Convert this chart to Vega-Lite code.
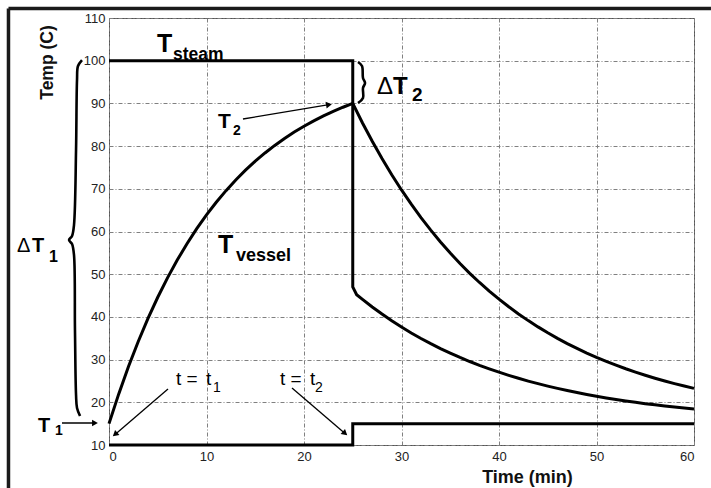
{
  "$schema": "https://vega.github.io/schema/vega-lite/v6.json",
  "width": 585,
  "height": 427,
  "autosize": {"type": "none"},
  "padding": {"left": 109, "top": 18, "right": 17, "bottom": 43},
  "background": "white",
  "config": {
    "font": "Liberation Sans",
    "view": {"stroke": "#555555", "strokeWidth": 1},
    "axis": {
      "domain": false,
      "ticks": false,
      "grid": true,
      "gridColor": "#808080",
      "gridDash": [4, 2, 1, 2],
      "gridWidth": 1,
      "labelFont": "Liberation Sans",
      "labelFontSize": 13,
      "labelColor": "#222222",
      "titleFont": "Liberation Sans",
      "titleFontWeight": "bold",
      "titleColor": "#111111"
    }
  },
  "datasets": {
    "curves": [
      {"s":"cool","i":0,"t":0,"T":10},{"s":"cool","i":1,"t":25,"T":10},{"s":"cool","i":2,"t":25,"T":15},{"s":"cool","i":3,"t":60,"T":15},
      {"s":"steam","i":0,"t":0,"T":100},{"s":"steam","i":1,"t":25,"T":100},{"s":"steam","i":2,"t":25,"T":47},{"s":"steam","i":3,"t":25.4,"T":45.2},
      {"s":"steam","i":4,"t":26,"T":44.11},{"s":"steam","i":5,"t":27,"T":42.33},{"s":"steam","i":6,"t":28,"T":40.66},{"s":"steam","i":7,"t":29,"T":39.09},
      {"s":"steam","i":8,"t":30,"T":37.62},{"s":"steam","i":9,"t":31,"T":36.24},{"s":"steam","i":10,"t":32,"T":34.95},{"s":"steam","i":11,"t":33,"T":33.73},
      {"s":"steam","i":12,"t":34,"T":32.58},{"s":"steam","i":13,"t":35,"T":31.51},{"s":"steam","i":14,"t":36,"T":30.5},{"s":"steam","i":15,"t":37,"T":29.55},
      {"s":"steam","i":16,"t":38,"T":28.66},{"s":"steam","i":17,"t":39,"T":27.83},{"s":"steam","i":18,"t":40,"T":27.05},{"s":"steam","i":19,"t":41,"T":26.31},
      {"s":"steam","i":20,"t":42,"T":25.62},{"s":"steam","i":21,"t":43,"T":24.97},{"s":"steam","i":22,"t":44,"T":24.37},{"s":"steam","i":23,"t":45,"T":23.79},
      {"s":"steam","i":24,"t":46,"T":23.26},{"s":"steam","i":25,"t":47,"T":22.75},{"s":"steam","i":26,"t":48,"T":22.28},{"s":"steam","i":27,"t":49,"T":21.83},
      {"s":"steam","i":28,"t":50,"T":21.42},{"s":"steam","i":29,"t":51,"T":21.02},{"s":"steam","i":30,"t":52,"T":20.66},{"s":"steam","i":31,"t":53,"T":20.31},
      {"s":"steam","i":32,"t":54,"T":19.99},{"s":"steam","i":33,"t":55,"T":19.68},{"s":"steam","i":34,"t":56,"T":19.4},{"s":"steam","i":35,"t":57,"T":19.13},
      {"s":"steam","i":36,"t":58,"T":18.88},{"s":"steam","i":37,"t":59,"T":18.64},{"s":"steam","i":38,"t":60,"T":18.42},
      {"s":"vessel","i":0,"t":0,"T":15},{"s":"vessel","i":1,"t":1,"T":21.97},{"s":"vessel","i":2,"t":2,"T":28.37},{"s":"vessel","i":3,"t":3,"T":34.25},
      {"s":"vessel","i":4,"t":4,"T":39.64},{"s":"vessel","i":5,"t":5,"T":44.6},{"s":"vessel","i":6,"t":6,"T":49.14},{"s":"vessel","i":7,"t":7,"T":53.31},
      {"s":"vessel","i":8,"t":8,"T":57.14},{"s":"vessel","i":9,"t":9,"T":60.66},{"s":"vessel","i":10,"t":10,"T":63.88},{"s":"vessel","i":11,"t":11,"T":66.85},
      {"s":"vessel","i":12,"t":12,"T":69.57},{"s":"vessel","i":13,"t":13,"T":72.07},{"s":"vessel","i":14,"t":14,"T":74.36},{"s":"vessel","i":15,"t":15,"T":76.46},
      {"s":"vessel","i":16,"t":16,"T":78.39},{"s":"vessel","i":17,"t":17,"T":80.16},{"s":"vessel","i":18,"t":18,"T":81.79},{"s":"vessel","i":19,"t":19,"T":83.29},
      {"s":"vessel","i":20,"t":20,"T":84.66},{"s":"vessel","i":21,"t":21,"T":85.92},{"s":"vessel","i":22,"t":22,"T":87.07},{"s":"vessel","i":23,"t":23,"T":88.13},
      {"s":"vessel","i":24,"t":24,"T":89.1},{"s":"vessel","i":25,"t":25,"T":90},
      {"s":"vessel","i":26,"t":26,"T":85.42},{"s":"vessel","i":27,"t":27,"T":81.12},{"s":"vessel","i":28,"t":28,"T":77.08},{"s":"vessel","i":29,"t":29,"T":73.29},
      {"s":"vessel","i":30,"t":30,"T":69.73},{"s":"vessel","i":31,"t":31,"T":66.39},{"s":"vessel","i":32,"t":32,"T":63.25},{"s":"vessel","i":33,"t":33,"T":60.31},
      {"s":"vessel","i":34,"t":34,"T":57.54},{"s":"vessel","i":35,"t":35,"T":54.94},{"s":"vessel","i":36,"t":36,"T":52.5},{"s":"vessel","i":37,"t":37,"T":50.21},
      {"s":"vessel","i":38,"t":38,"T":48.06},{"s":"vessel","i":39,"t":39,"T":46.04},{"s":"vessel","i":40,"t":40,"T":44.15},{"s":"vessel","i":41,"t":41,"T":42.37},
      {"s":"vessel","i":42,"t":42,"T":40.7},{"s":"vessel","i":43,"t":43,"T":39.13},{"s":"vessel","i":44,"t":44,"T":37.66},{"s":"vessel","i":45,"t":45,"T":36.27},
      {"s":"vessel","i":46,"t":46,"T":34.97},{"s":"vessel","i":47,"t":47,"T":33.75},{"s":"vessel","i":48,"t":48,"T":32.61},{"s":"vessel","i":49,"t":49,"T":31.53},
      {"s":"vessel","i":50,"t":50,"T":30.52},{"s":"vessel","i":51,"t":51,"T":29.57},{"s":"vessel","i":52,"t":52,"T":28.69},{"s":"vessel","i":53,"t":53,"T":27.85},
      {"s":"vessel","i":54,"t":54,"T":27.07},{"s":"vessel","i":55,"t":55,"T":26.33},{"s":"vessel","i":56,"t":56,"T":25.64},{"s":"vessel","i":57,"t":57,"T":24.99},
      {"s":"vessel","i":58,"t":58,"T":24.38},{"s":"vessel","i":59,"t":59,"T":23.8},{"s":"vessel","i":60,"t":60,"T":23.27}
    ],
    "braces": [
      {"b":"big","i":0,"t":-2.77,"T":100.16},{"b":"big","i":1,"t":-3.18,"T":98.76},{"b":"big","i":2,"t":-3.28,"T":95.48},{"b":"big","i":3,"t":-3.38,"T":79.09},
      {"b":"big","i":4,"t":-3.59,"T":61.52},{"b":"big","i":5,"t":-3.79,"T":58.95},{"b":"big","i":6,"t":-4.1,"T":58.01},{"b":"big","i":7,"t":-3.79,"T":57.07},
      {"b":"big","i":8,"t":-3.59,"T":54.5},{"b":"big","i":9,"t":-3.49,"T":36.93},{"b":"big","i":10,"t":-3.38,"T":21.71},{"b":"big","i":11,"t":-3.28,"T":18.67},
      {"b":"big","i":12,"t":-2.97,"T":16.79},
      {"b":"small","i":0,"t":25.54,"T":99.7},{"b":"small","i":1,"t":25.95,"T":98.76},{"b":"small","i":2,"t":26.05,"T":95.95},{"b":"small","i":3,"t":26.26,"T":94.78},
      {"b":"small","i":4,"t":26.05,"T":93.61},{"b":"small","i":5,"t":26.05,"T":91.27},{"b":"small","i":6,"t":25.54,"T":90.09}
    ],
    "arrows": [
      {"x":13.74,"y":86.35,"x2":22.56,"y2":89.7,"hx":22.56,"hy":89.7,"a":-9.5},
      {"x":-4.82,"y":15.15,"x2":-1.44,"y2":15.15,"hx":-1.44,"hy":15.15,"a":0},
      {"x":6.05,"y":23.11,"x2":0.62,"y2":12.48,"hx":0.62,"hy":12.48,"a":139.4},
      {"x":18.77,"y":23.35,"x2":24.21,"y2":12.72,"hx":24.21,"hy":12.72,"a":40.6}
    ],
    "frame": [
      {"x":-10.31,"y":112.22,"x2":61.74,"y2":112.22},
      {"x":-10.31,"y":112.22,"x2":-10.31,"y2":-0.07}
    ],
    "boldText": [
      {"x":4.92,"y":102.0,"label":"T","size":25},
      {"x":6.56,"y":100.16,"label":"steam","size":17.5},
      {"x":11.18,"y":54.96,"label":"T","size":25},
      {"x":13.03,"y":53.1,"label":"vessel","size":18},
      {"x":11.18,"y":84.2,"label":"T","size":21},
      {"x":12.72,"y":82.6,"label":"2","size":14},
      {"x":-7.28,"y":13.04,"label":"T","size":20},
      {"x":-5.54,"y":12.34,"label":"1","size":14},
      {"x":29.13,"y":92.2,"label":"T","size":24},
      {"x":31.08,"y":90.56,"label":"2","size":19},
      {"x":-7.9,"y":55.2,"label":"T","size":20},
      {"x":-6.15,"y":52.86,"label":"1","size":16}
    ],
    "plainText": [
      {"x":27.49,"y":92.2,"label":"Δ","size":24},
      {"x":-9.44,"y":55.2,"label":"Δ","size":20},
      {"x":6.87,"y":24.05,"label":"t =","size":19},
      {"x":9.95,"y":24.05,"label":"t","size":19},
      {"x":10.67,"y":22.41,"label":"1","size":14},
      {"x":17.54,"y":24.05,"label":"t =","size":19},
      {"x":20.62,"y":24.05,"label":"t","size":19},
      {"x":21.13,"y":22.41,"label":"2","size":14}
    ]
  },
  "layer": [
    {
      "data": {"name": "curves"},
      "mark": {"type": "line", "color": "black", "strokeWidth": 3, "strokeJoin": "miter"},
      "encoding": {
        "x": {"field": "t", "type": "quantitative", "scale": {"domain": [0, 60], "nice": false},
          "axis": {"values": [0,10,20,30,40,50,60], "title": "Time (min)", "titleFontSize": 18, "labelPadding": 5,
            "titleX": 418, "titleY": 32, "titleAlign": "center", "titleBaseline": "middle", "titleAnchor": null}},
        "y": {"field": "T", "type": "quantitative", "scale": {"domain": [10, 110], "nice": false, "zero": false},
          "axis": {"values": [10,20,30,40,50,60,70,80,90,100,110], "title": "Temp (C)", "titleFontSize": 17.5, "labelPadding": 4,
            "titleX": -62, "titleY": 44, "titleAlign": "center", "titleBaseline": "middle", "titleAngle": -90, "titleAnchor": null}},
        "detail": {"field": "s"},
        "order": {"field": "i", "type": "quantitative"}
      }
    },
    {
      "data": {"name": "braces"},
      "mark": {"type": "line", "color": "black", "strokeWidth": 2.6, "interpolate": "catmull-rom"},
      "encoding": {
        "x": {"field": "t", "type": "quantitative"},
        "y": {"field": "T", "type": "quantitative"},
        "detail": {"field": "b"},
        "order": {"field": "i", "type": "quantitative"}
      }
    },
    {
      "data": {"name": "arrows"},
      "mark": {"type": "rule", "color": "black", "strokeWidth": 1.3},
      "encoding": {
        "x": {"field": "x", "type": "quantitative"},
        "y": {"field": "y", "type": "quantitative"},
        "x2": {"field": "x2"},
        "y2": {"field": "y2"}
      }
    },
    {
      "data": {"name": "arrows"},
      "mark": {"type": "point", "shape": "triangle-right", "filled": true, "color": "black", "size": 45, "opacity": 1},
      "encoding": {
        "x": {"field": "hx", "type": "quantitative"},
        "y": {"field": "hy", "type": "quantitative"},
        "angle": {"field": "a", "type": "quantitative", "scale": null}
      }
    },
    {
      "data": {"name": "frame"},
      "mark": {"type": "rule", "color": "#1a1a1a", "strokeWidth": 3.5},
      "encoding": {
        "x": {"field": "x", "type": "quantitative"},
        "y": {"field": "y", "type": "quantitative"},
        "x2": {"field": "x2"},
        "y2": {"field": "y2"}
      }
    },
    {
      "data": {"name": "boldText"},
      "mark": {"type": "text", "font": "Liberation Sans", "fontWeight": "bold", "align": "left", "baseline": "alphabetic", "color": "black"},
      "encoding": {
        "x": {"field": "x", "type": "quantitative"},
        "y": {"field": "y", "type": "quantitative"},
        "text": {"field": "label"},
        "size": {"field": "size", "type": "quantitative", "scale": null}
      }
    },
    {
      "data": {"name": "plainText"},
      "mark": {"type": "text", "font": "Liberation Sans", "align": "left", "baseline": "alphabetic", "color": "black"},
      "encoding": {
        "x": {"field": "x", "type": "quantitative"},
        "y": {"field": "y", "type": "quantitative"},
        "text": {"field": "label"},
        "size": {"field": "size", "type": "quantitative", "scale": null}
      }
    }
  ]
}
